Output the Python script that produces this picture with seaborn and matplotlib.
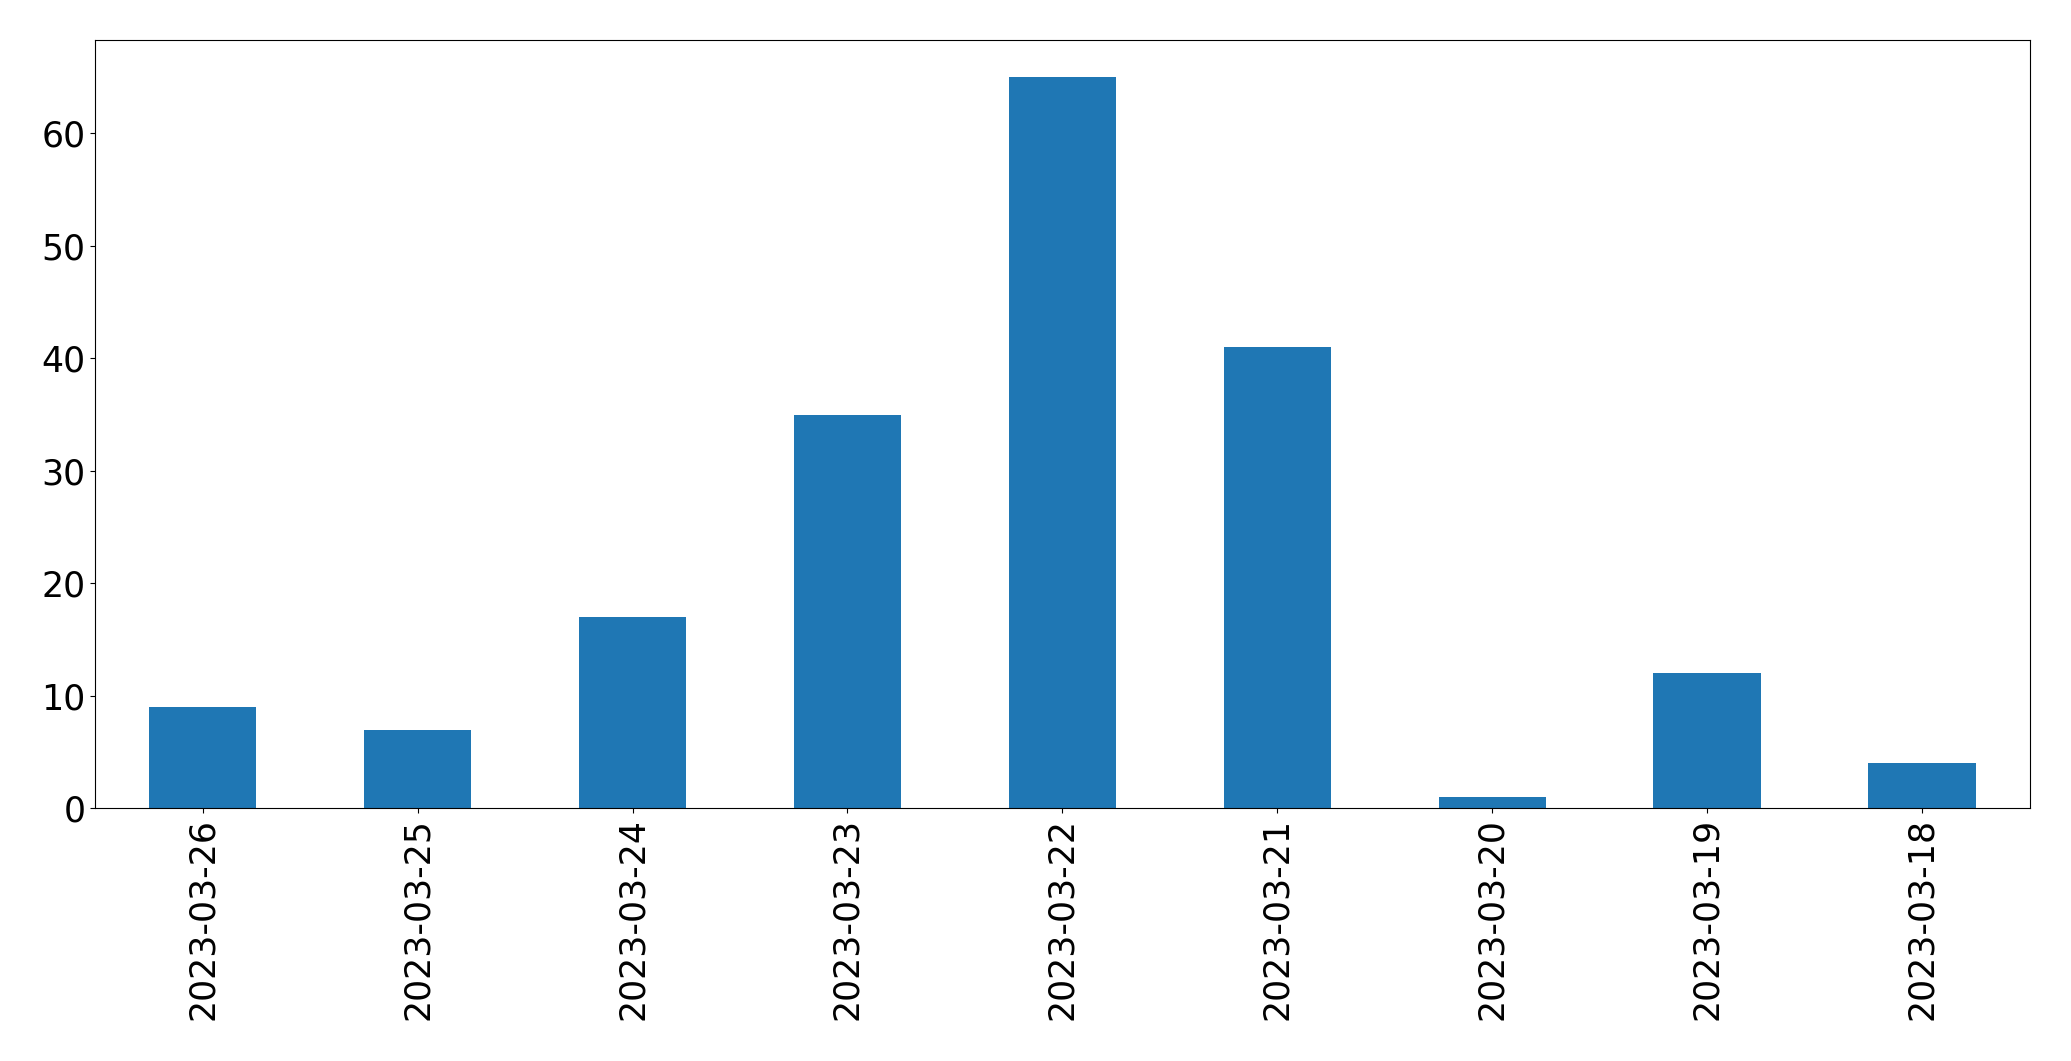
import pandas as pd
import matplotlib.pyplot as plt
import seaborn as sns

dates = ['2023-03-26', '2023-03-25', '2023-03-24', '2023-03-23', '2023-03-22',
         '2023-03-21', '2023-03-20', '2023-03-19', '2023-03-18']
counts = [9, 7, 17, 35, 65, 41, 1, 12, 4]

df = pd.DataFrame({'date': dates, 'count': counts})

fig, ax = plt.subplots(figsize=(20.71, 10.61), dpi=100)
sns.barplot(data=df, x='date', y='count', color='#1f77b4', saturation=1,
            width=0.5, linewidth=0, ax=ax)
ax.set_xlim(-0.5, len(dates) - 0.5)
ax.set_ylim(0, max(counts) * 1.05)
ax.set_xlabel('')
ax.set_ylabel('')
ax.tick_params(axis='both', labelsize=25)
plt.setp(ax.get_xticklabels(), rotation=90)
fig.subplots_adjust(left=0.046, right=0.98, top=0.962, bottom=0.238)
fig.savefig('out.png', dpi=100)
